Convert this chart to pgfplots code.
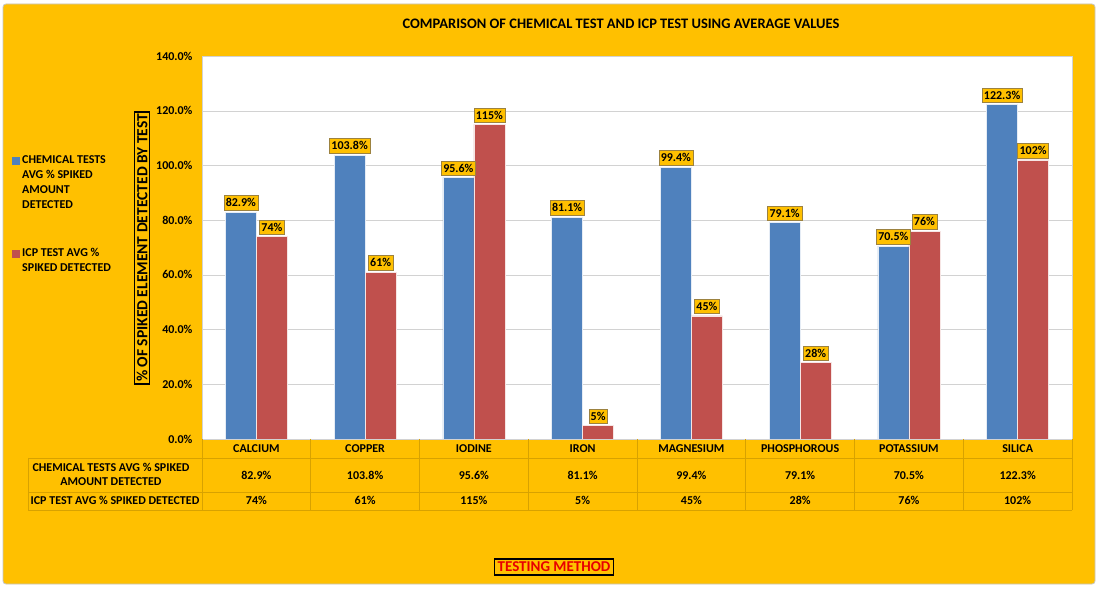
\documentclass[border=0pt]{standalone}
\usepackage{fontspec}
\setmainfont{Carlito}
\usepackage{pgfplots}
\usepackage{pgfplotstable}
\pgfplotsset{compat=1.18}

\definecolor{bg}{HTML}{FFC000}
\definecolor{cblue}{HTML}{4F81BD}
\definecolor{cred}{HTML}{C0504D}
\definecolor{tline}{HTML}{D8A200}
\definecolor{lblbox}{HTML}{9C8240}
\definecolor{tmred}{HTML}{E80000}

% average % spiked amount detected
\pgfplotstableread{
x chem  icp
0 82.9  74
1 103.8 61
2 95.6  115
3 81.1  5
4 99.4  45
5 79.1  28
6 70.5  76
7 122.3 102
}\avgdata

\newcommand{\lbl}{\fontsize{12}{14}\selectfont\bfseries}

\begin{document}
\begin{tikzpicture}[x=1pt,y=1pt]
\useasboundingbox (0,0) rectangle (1099,589);
\fill[white] (0,0) rectangle (1099,589);
\filldraw[fill=bg, draw=gray!45, line width=0.8pt, rounded corners=3pt] (3,5) rectangle (1095,585);

\node[font=\fontsize{14.5}{16}\selectfont\bfseries] at (621,565)
  {COMPARISON OF CHEMICAL TEST AND ICP TEST USING AVERAGE VALUES};

\begin{axis}[
  at={(202pt,150pt)}, anchor=south west,
  width=870pt, height=383pt, scale only axis,
  ymin=0, ymax=140, ytick={0,20,...,140},
  xmin=-0.5, xmax=7.5, xtick=data,
  xticklabels={CALCIUM,COPPER,IODINE,IRON,MAGNESIUM,PHOSPHOROUS,POTASSIUM,SILICA},
  ybar=0pt, bar width=31pt,
  axis background/.style={fill=white},
  axis line style={draw=gray!35},
  ymajorgrids, grid style={draw=gray!35},
  major tick length=0pt,
  tick label style={font=\lbl},
  /pgf/number format/assume math mode=true,
  yticklabel={\pgfmathprintnumber[fixed,fixed zerofill,precision=1]{\tick}\%},
  yticklabel style={xshift=-6pt},
  xticklabel style={anchor=center, yshift=-10pt},
  every node near coord/.append style={fill=bg, draw=lblbox, inner xsep=2pt,
    inner ysep=3pt, font=\lbl, yshift=2pt},
]
\addplot[fill=cblue, draw=white!85!cblue, line width=0.4pt,
  nodes near coords={\pgfmathprintnumber[fixed,fixed zerofill,precision=1]{\pgfplotspointmeta}\%}]
  table[x=x,y=chem]{\avgdata};
\addplot[fill=cred, draw=white!85!cred, line width=0.4pt,
  nodes near coords={\pgfmathprintnumber[fixed,precision=0]{\pgfplotspointmeta}\%}]
  table[x=x,y=icp]{\avgdata};
\end{axis}

% y axis title
\node[draw=black, line width=1.5pt, rotate=90, inner sep=2pt,
  font=\fontsize{15.5}{17}\selectfont\bfseries] at (142,341)
  {\% OF SPIKED ELEMENT DETECTED BY TEST};

% legend
\fill[cblue] (12,424) rectangle (20,432);
\node[anchor=north west, inner sep=0pt, align=left,
  font=\fontsize{12}{15.3}\selectfont\bfseries] at (22,434)
  {CHEMICAL TESTS\\AVG \% SPIKED\\AMOUNT\\DETECTED};
\fill[cred] (12,331) rectangle (20,339);
\node[anchor=north west, inner sep=0pt, align=left,
  font=\fontsize{12}{15.3}\selectfont\bfseries] at (22,341)
  {ICP TEST AVG \%\\SPIKED DETECTED};

% data table below the plot
\draw[tline, line width=0.8pt] (28,131) -- (1072,131);
\draw[tline, line width=0.8pt] (28,97) -- (1072,97);
\draw[tline, line width=0.8pt] (28,79) -- (1072,79);
\draw[tline, line width=0.8pt] (28,131) -- (28,79);
\foreach \k in {0,...,8} {
  \draw[tline, line width=0.8pt] (202+108.75*\k,150) -- (202+108.75*\k,79);
}
\node[font=\lbl, align=center, inner sep=0pt] at (111,114.5)
  {CHEMICAL TESTS AVG \% SPIKED\\AMOUNT DETECTED};
\node[font=\lbl, inner sep=0pt] at (115,88.5) {ICP TEST AVG \% SPIKED DETECTED};
\foreach \v [count=\i from 0] in {82.9\%,103.8\%,95.6\%,81.1\%,99.4\%,79.1\%,70.5\%,122.3\%} {
  \node[font=\lbl, inner sep=0pt] at (202+108.75*\i+54.375,114) {\v};
}
\foreach \v [count=\i from 0] in {74\%,61\%,115\%,5\%,45\%,28\%,76\%,102\%} {
  \node[font=\lbl, inner sep=0pt] at (202+108.75*\i+54.375,88.5) {\v};
}

% x axis title
\node[draw=black, line width=1.5pt, inner sep=3pt, text=tmred,
  font=\fontsize{15}{17}\selectfont\bfseries] at (554,22) {TESTING METHOD};
\end{tikzpicture}
\end{document}
